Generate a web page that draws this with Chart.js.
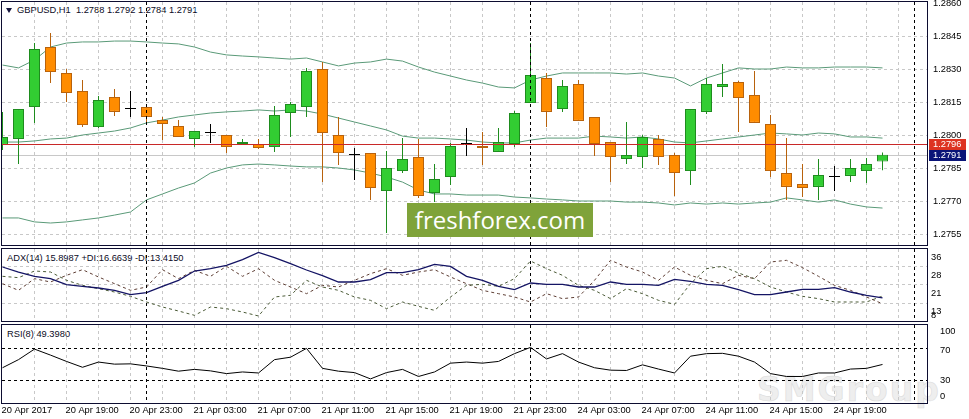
<!DOCTYPE html>
<html>
<head>
<meta charset="utf-8">
<title>GBPUSD H1</title>
<script src="https://cdn.jsdelivr.net/npm/chart.js@4.4.1/dist/chart.umd.min.js"></script>
<style>
  html, body { margin:0; padding:0; background:#ffffff; overflow:hidden; }
  #wrap { position:relative; width:969px; height:419px; background:#fff; }
  canvas { position:absolute; left:0; z-index:2; }
  #cMain { top:0; }
  #cAdx { top:247px; }
  #cRsi { top:324px; }
  .ttl { position:absolute; z-index:1; font:9.3px "Liberation Sans", Arial, sans-serif; line-height:11px; color:#0a0a1e; white-space:pre; }
  #tri { position:absolute; z-index:1; left:6px; top:8px; width:0; height:0; border-left:3px solid transparent; border-right:3px solid transparent; border-top:5px solid #14143c; }
  #smg { position:absolute; z-index:0; left:757px; top:373px; font:bold 33px "DejaVu Sans", sans-serif; letter-spacing:2px; line-height:33px; color:#eeeeee; -webkit-text-stroke:0.6px #dcdcdc; white-space:pre; }
  #ff { position:absolute; z-index:3; left:407px; top:203px; width:186px; height:34px; background:#7fa33a; color:#fff; font:24px "Open Sans", sans-serif; line-height:34px; text-align:center; }
</style>
</head>
<body>
<div id="wrap">
  <div id="smg">SMGroup</div>
  <div id="tri"></div>
  <div class="ttl" id="tMain" style="left:17px;top:4.5px"></div>
  <div class="ttl" id="tAdx" style="left:7px;top:253px"></div>
  <div class="ttl" id="tRsi" style="left:7px;top:328.5px"></div>
  <canvas id="cMain" width="969" height="247"></canvas>
  <canvas id="cAdx" width="969" height="77"></canvas>
  <canvas id="cRsi" width="969" height="95"></canvas>
  <div id="ff">freshforex.com</div>
</div>
<script>
// ---------- data ----------
const symbol = 'GBPUSD';
const timeframe = 'H1';

const open = [
  1.27955,1.27982,1.28127,1.28400,1.28282,1.28200,1.28036,1.28173,1.28118,1.28127,
  1.28068,1.28041,1.27982,1.28009,1.28000,1.27959,1.27959,1.27945,1.28100,1.28127,
  1.28300,1.28000,1.27909,1.27918,1.27745,1.27836,1.27900,1.27736,1.27809,1.27959,
  1.27950,1.27923,1.27959,1.28145,1.28259,1.28118,1.28232,1.28082,1.27968,1.27891,
  1.27900,1.27982,1.27909,1.27836,1.28105,1.28218,1.28241,1.28182,1.28050,1.27827,
  1.27777,1.27764,1.27809,1.27814,1.27836,1.27880];
const high = [
  1.28105,1.28118,1.28418,1.28464,1.28300,1.28250,1.28177,1.28209,1.28200,1.28132,
  1.28082,1.28068,1.28018,1.28050,1.28000,1.27982,1.27982,1.28132,1.28150,1.28305,
  1.28332,1.28082,1.27941,1.27918,1.27927,1.27986,1.27982,1.27868,1.27964,1.28032,
  1.28014,1.28032,1.28109,1.28418,1.28282,1.28250,1.28250,1.28082,1.27968,1.28059,
  1.28000,1.28000,1.27918,1.28118,1.28259,1.28323,1.28245,1.28291,1.28091,1.27986,
  1.27868,1.27891,1.27859,1.27891,1.27895,1.27920];
const low = [
  1.27932,1.27868,1.28055,1.28236,1.28150,1.28036,1.28032,1.28086,1.28082,1.28050,
  1.27977,1.27991,1.27945,1.27964,1.27918,1.27959,1.27936,1.27923,1.27991,1.28082,
  1.27786,1.27864,1.27795,1.27705,1.27555,1.27827,1.27714,1.27695,1.27773,1.27905,
  1.27864,1.27923,1.27945,1.28145,1.28036,1.28105,1.28064,1.27905,1.27786,1.27868,
  1.27850,1.27864,1.27723,1.27773,1.28095,1.28173,1.28014,1.28055,1.27809,1.27705,
  1.27718,1.27705,1.27745,1.27786,1.27782,1.27840];
const close = [
  1.27991,1.28118,1.28391,1.28286,1.28191,1.28045,1.28159,1.28105,1.28118,1.28082,
  1.28050,1.27991,1.28018,1.28009,1.27945,1.27968,1.27941,1.28091,1.28141,1.28291,
  1.28009,1.27918,1.27909,1.27759,1.27850,1.27891,1.27723,1.27800,1.27950,1.27959,
  1.27941,1.27968,1.28100,1.28273,1.28105,1.28223,1.28064,1.27959,1.27900,1.27909,
  1.27991,1.27900,1.27827,1.28118,1.28232,1.28232,1.28168,1.28055,1.27836,1.27764,
  1.27759,1.27818,1.27809,1.27850,1.27868,1.27910];

const bbUpper = [
  1.28318,1.28305,1.28341,1.28400,1.28418,1.28423,1.28423,1.28427,1.28427,1.28423,
  1.28418,1.28414,1.28400,1.28377,1.28364,1.28359,1.28355,1.28350,1.28345,1.28350,
  1.28332,1.28314,1.28327,1.28332,1.28345,1.28336,1.28309,1.28286,1.28268,1.28250,
  1.28236,1.28218,1.28214,1.28250,1.28268,1.28282,1.28282,1.28282,1.28282,1.28277,
  1.28282,1.28268,1.28259,1.28223,1.28259,1.28282,1.28305,1.28300,1.28300,1.28309,
  1.28305,1.28305,1.28309,1.28309,1.28309,1.28305];
const bbMiddle = [
  1.27968,1.27968,1.27973,1.27982,1.27986,1.28000,1.28009,1.28018,1.28032,1.28055,
  1.28068,1.28082,1.28091,1.28100,1.28105,1.28109,1.28114,1.28109,1.28114,1.28109,
  1.28095,1.28077,1.28059,1.28041,1.28023,1.27995,1.27986,1.27986,1.27982,1.27977,
  1.27968,1.27964,1.27964,1.27977,1.27986,1.27986,1.27986,1.27995,1.27991,1.27986,
  1.27991,1.27982,1.27968,1.27964,1.27973,1.27982,1.27991,1.28000,1.28009,1.28005,
  1.28000,1.28009,1.28005,1.27991,1.27991,1.27986];
const bbLower = [
  1.27623,1.27623,1.27605,1.27600,1.27605,1.27614,1.27623,1.27636,1.27650,1.27705,
  1.27732,1.27759,1.27782,1.27827,1.27850,1.27864,1.27868,1.27864,1.27859,1.27855,
  1.27855,1.27850,1.27841,1.27827,1.27809,1.27786,1.27750,1.27732,1.27732,1.27727,
  1.27727,1.27727,1.27718,1.27714,1.27709,1.27705,1.27700,1.27700,1.27700,1.27695,
  1.27695,1.27691,1.27682,1.27691,1.27686,1.27691,1.27686,1.27691,1.27695,1.27714,
  1.27705,1.27695,1.27705,1.27686,1.27673,1.27668];

const adx = [
  28.85,26.75,24.94,23.96,21.44,20.74,20.04,19.06,17.25,18.08,
  20.74,23.26,27.17,28.15,29.55,31.93,35.00,32.77,30.25,27.59,
  25.21,22.56,22.56,23.54,26.47,26.47,27.73,29.97,29.13,24.94,
  23.26,20.74,19.34,22.14,21.58,21.58,20.46,20.46,22.56,21.58,
  21.58,21.16,23.68,22.84,21.58,21.16,19.34,17.25,17.25,18.36,
  19.48,19.48,20.18,18.36,16.97,15.90];
const plusDI = [
  24.94,24.38,27.17,26.75,23.26,21.16,19.76,18.36,16.55,14.17,
  12.07,10.39,8.58,12.07,11.37,9.97,8.30,16.27,16.97,23.26,
  20.46,19.06,16.27,14.87,11.37,14.17,12.35,10.67,16.27,21.16,
  21.58,20.74,23.96,31.37,28.15,25.35,21.16,19.06,15.57,19.76,
  17.66,14.87,13.19,21.86,28.15,29.13,26.33,23.96,20.46,18.36,
  16.55,15.57,14.17,14.17,14.17,16.66];
const minusDI = [
  21.86,19.06,23.96,22.56,25.35,27.73,24.66,21.86,19.06,20.46,
  27.73,23.96,27.45,24.94,29.13,24.94,28.15,23.26,20.46,17.66,
  21.16,20.46,23.26,26.05,28.15,25.35,26.75,27.73,24.66,21.86,
  19.06,17.66,16.27,14.17,17.66,15.57,16.27,23.26,31.65,28.85,
  26.75,23.26,28.85,25.35,23.26,21.86,25.35,23.96,30.95,31.65,
  28.57,24.94,21.16,19.06,16.27,13.42];
const rsi = [
  45.2,55.6,69.1,61.4,53.3,45.8,52.5,49.8,50.2,47.5,
  44.4,40.8,43.1,41.2,37.7,39.8,38.5,55.6,58.7,70.0,
  44.4,40.8,39.0,30.9,39.0,43.1,34.0,39.8,51.1,52.5,
  51.1,53.3,63.3,71.3,56.5,63.3,52.5,45.2,42.1,41.7,
  48.9,43.5,38.5,60.0,63.3,63.7,60.0,52.5,37.7,34.0,
  34.0,38.5,38.5,43.5,44.4,49.4];

const adxTitle = 'ADX(14) 15.8987 +DI:16.6639 -DI:13.4150';
const rsiTitle = 'RSI(8) 49.3980';
const levelPrice = 1.2796;
const bidPrice = 1.2791;

const priceTicks = [1.2755, 1.2770, 1.2785, 1.2800, 1.2815, 1.2830, 1.2845, 1.2860];
const adxTickPos = [36.4, 28.85, 21.3, 13.75, 11.78];
const adxTickLabels = ['36', '28', '21', '13', '8'];
const adxGridLevels = [28.85, 21.3, 13.75];
const rsiTickPos = [92.3, 68, 29.5, 8.1];
const rsiTickLabels = ['100', '70', '30', '0'];
const rsiLevels = [70, 30];

const xTickBars = [0, 4, 8, 12, 16, 20, 24, 28, 32, 36, 40, 44, 48, 52];
const xTickLabels = ['20 Apr 2017', '20 Apr 19:00', '20 Apr 23:00', '21 Apr 03:00', '21 Apr 07:00',
  '21 Apr 11:00', '21 Apr 15:00', '21 Apr 19:00', '21 Apr 23:00', '24 Apr 03:00', '24 Apr 07:00',
  '24 Apr 11:00', '24 Apr 15:00', '24 Apr 19:00'];
const gridBars = [2,4,6,8,10,12,14,16,18,20,22,24,26,28,30,32,34,36,38,40,42,44,46,48,50,52,54,56];
const separatorBars = [9, 33, 57];

// ---------- styling ----------
const xMin = -0.03125, xMax = 57.78125;
const gridColor = '#c8c8c8';
const frameColor = '#0c0c30';
const bandColor = '#5a9a78';
const bullFill = '#32cd32', bullLine = '#1e8c1e';
const bearFill = '#ff8c00', bearLine = '#b8620c';
const dojiColor = '#000000';
const font = { family: '"Liberation Sans", Arial, sans-serif', size: 9.3 };
Chart.defaults.font.family = font.family;
Chart.defaults.font.size = font.size;
Chart.defaults.color = '#000';

document.getElementById('tMain').textContent = symbol + ',' + timeframe + '  ' +
  [open[open.length - 1], high[high.length - 1], low[low.length - 1], close[close.length - 1]].map(v => v.toFixed(4)).join(' ');
document.getElementById('tAdx').textContent = adxTitle;
document.getElementById('tRsi').textContent = rsiTitle;

const idx = open.map((_, i) => i);
const pts = arr => arr.map((v, i) => ({ x: i, y: v }));
function candleFill(i) {
  if (i === undefined) return bullFill;
  if (open[i] === close[i]) return dojiColor;
  return close[i] > open[i] ? bullFill : bearFill;
}
function candleLine(i) {
  if (i === undefined) return bullLine;
  if (open[i] === close[i]) return dojiColor;
  return close[i] > open[i] ? bullLine : bearLine;
}

function xAxis(showLabels) {
  return {
    type: 'linear', min: xMin, max: xMax, offset: false,
    afterBuildTicks: s => { s.ticks = (showLabels ? [0].concat(gridBars) : gridBars).map(v => ({ value: v })); },
    ticks: showLabels ? {
      display: true, autoSkip: false, maxRotation: 0, minRotation: 0, align: 'start',
      labelOffset: -1, padding: 2, color: '#000', font,
      callback: v => { const k = xTickBars.indexOf(v); return k >= 0 ? xTickLabels[k] : ''; }
    } : { display: false },
    grid: { offset: false, drawTicks: false, lineWidth: 1,
      color: c => (c.tick && c.tick.value === 0) ? 'rgba(0,0,0,0)' : gridColor },
    border: { display: false, dash: [3, 3] },
    afterFit: s => { s.height = showLabels ? 16 : 0; s.paddingLeft = 0; s.paddingRight = 0; }
  };
}

function yAxisFit(s) { s.width = 42; s.paddingTop = 0; s.paddingBottom = 0; }

function panelPlugin(cfg) {
  return {
    id: 'panel',
    beforeDatasetsDraw(chart) {
      const { ctx, chartArea: a } = chart;
      const y = chart.scales.y;
      ctx.save();
      (cfg.under || []).forEach(l => {
        const py = Math.round(y.getPixelForValue(l.value)) + 0.5;
        ctx.strokeStyle = l.color; ctx.lineWidth = 1; ctx.setLineDash(l.dash || []);
        ctx.beginPath(); ctx.moveTo(a.left, py); ctx.lineTo(a.right, py); ctx.stroke();
      });
      ctx.restore();
    },
    afterDatasetsDraw(chart) {
      const { ctx, chartArea: a } = chart;
      const x = chart.scales.x, y = chart.scales.y;
      ctx.save();
      (cfg.over || []).forEach(l => {
        const py = Math.round(y.getPixelForValue(l.value)) + 0.5;
        ctx.strokeStyle = l.color; ctx.lineWidth = 1; ctx.setLineDash(l.dash || []);
        ctx.beginPath(); ctx.moveTo(a.left, py); ctx.lineTo(a.right, py); ctx.stroke();
      });
      ctx.strokeStyle = '#000'; ctx.lineWidth = 1; ctx.setLineDash([3, 3]);
      separatorBars.forEach(b => {
        const px = Math.round(x.getPixelForValue(b) - 0.5) + 0.5;
        ctx.beginPath(); ctx.moveTo(px, a.top); ctx.lineTo(px, a.bottom); ctx.stroke();
      });
      ctx.setLineDash([]);
      ctx.strokeStyle = frameColor;
      ctx.strokeRect(a.left - 0.5, a.top - 0.5, a.right - a.left + 1, a.bottom - a.top + 1);
      ctx.restore();
    },
    afterDraw(chart) {
      const { ctx, chartArea: a } = chart;
      const y = chart.scales.y;
      ctx.save();
      (cfg.boxes || []).forEach(b => {
        const py = y.getPixelForValue(b.value);
        ctx.fillStyle = b.bg;
        ctx.fillRect(a.right + 2, Math.round(py) - 5, 37, 11);
        ctx.fillStyle = '#fff';
        ctx.font = font.size + 'px ' + font.family;
        ctx.textBaseline = 'middle';
        ctx.textAlign = 'left';
        ctx.fillText(b.value.toFixed(4), a.right + 6, Math.round(py) + 0.5);
      });
      ctx.restore();
    }
  };
}

const commonOpts = {
  responsive: false, animation: false, devicePixelRatio: 1, events: [],
  plugins: { legend: { display: false }, tooltip: { enabled: false } }
};

// ---------- main price panel ----------
new Chart(document.getElementById('cMain'), {
  type: 'bar',
  data: {
    datasets: [
      { type: 'bar', label: 'Body', data: idx.map(i => ({ x: i, y: [open[i], close[i]] })),
        barThickness: 11, grouped: false, borderWidth: 1, borderSkipped: false, minBarLength: 1, inflateAmount: 0,
        backgroundColor: c => candleFill(c.dataIndex), borderColor: c => candleLine(c.dataIndex) },
      { type: 'bar', label: 'Wick', data: idx.map(i => ({ x: i, y: [low[i], high[i]] })),
        barThickness: 1, grouped: false, borderWidth: 0, inflateAmount: 0,
        backgroundColor: c => candleLine(c.dataIndex) },
      { type: 'line', label: 'BB upper', data: pts(bbUpper), borderColor: bandColor, borderWidth: 1, pointRadius: 0, tension: 0 },
      { type: 'line', label: 'BB middle', data: pts(bbMiddle), borderColor: bandColor, borderWidth: 1, pointRadius: 0, tension: 0 },
      { type: 'line', label: 'BB lower', data: pts(bbLower), borderColor: bandColor, borderWidth: 1, pointRadius: 0, tension: 0 }
    ]
  },
  options: Object.assign({}, commonOpts, {
    layout: { padding: { left: 2, top: 2, bottom: 2, right: 0 } },
    scales: {
      x: xAxis(false),
      y: {
        position: 'right', min: 1.2750, max: 1.2860455,
        afterBuildTicks: s => { s.ticks = priceTicks.map(v => ({ value: v })); },
        ticks: { callback: v => v.toFixed(4), padding: 6, color: '#000', font, autoSkip: false },
        grid: { drawTicks: false, lineWidth: 1,
          color: c => (c.tick && c.tick.value === 1.2860) ? 'rgba(0,0,0,0)' : gridColor },
        border: { display: false, dash: [3, 3] },
        afterFit: yAxisFit
      }
    }
  }),
  plugins: [panelPlugin({
    under: [{ value: bidPrice, color: '#c8c8c8' }],
    over: [{ value: levelPrice, color: '#c82828' }],
    boxes: [{ value: levelPrice, bg: '#dd3322' }, { value: bidPrice, bg: '#0a1478' }]
  })]
});

// ---------- ADX panel ----------
new Chart(document.getElementById('cAdx'), {
  type: 'line',
  data: {
    datasets: [
      { label: 'ADX', data: pts(adx), borderColor: '#141464', borderWidth: 1.3, pointRadius: 0, tension: 0 },
      { label: '+DI', data: pts(plusDI), borderColor: '#4a5a36', borderWidth: 1, borderDash: [3, 3], pointRadius: 0, tension: 0 },
      { label: '-DI', data: pts(minusDI), borderColor: '#5e3e34', borderWidth: 1, borderDash: [3, 3], pointRadius: 0, tension: 0 }
    ]
  },
  options: Object.assign({}, commonOpts, {
    layout: { padding: { left: 2, top: 2, bottom: 3, right: 0 } },
    scales: {
      x: xAxis(false),
      y: {
        position: 'right', min: 6.2, max: 36.4,
        afterBuildTicks: s => { s.ticks = adxTickPos.map(v => ({ value: v })); },
        ticks: { callback: (v, i) => adxTickLabels[i], padding: 4, labelOffset: 8, color: '#000', font, autoSkip: false },
        grid: { drawTicks: false, lineWidth: 1,
          color: c => (c.tick && adxGridLevels.includes(c.tick.value)) ? gridColor : 'rgba(0,0,0,0)' },
        border: { display: false, dash: [3, 3] },
        afterFit: yAxisFit
      }
    }
  }),
  plugins: [panelPlugin({})]
});

// ---------- RSI panel ----------
new Chart(document.getElementById('cRsi'), {
  type: 'line',
  data: {
    datasets: [
      { label: 'RSI', data: pts(rsi), borderColor: '#000000', borderWidth: 1, pointRadius: 0, tension: 0 }
    ]
  },
  options: Object.assign({}, commonOpts, {
    layout: { padding: { left: 2, top: 1, bottom: 0, right: 0 } },
    scales: {
      x: xAxis(true),
      y: {
        position: 'right', min: 0, max: 100,
        afterBuildTicks: s => { s.ticks = rsiTickPos.map(v => ({ value: v })); },
        ticks: { callback: (v, i) => rsiTickLabels[i], padding: 5, color: '#000', font, autoSkip: false },
        grid: { display: false },
        border: { display: false },
        afterFit: yAxisFit
      }
    }
  }),
  plugins: [panelPlugin({
    under: rsiLevels.map(v => ({ value: v, color: '#000', dash: [3, 3] }))
  })]
});
</script>
</body>
</html>
